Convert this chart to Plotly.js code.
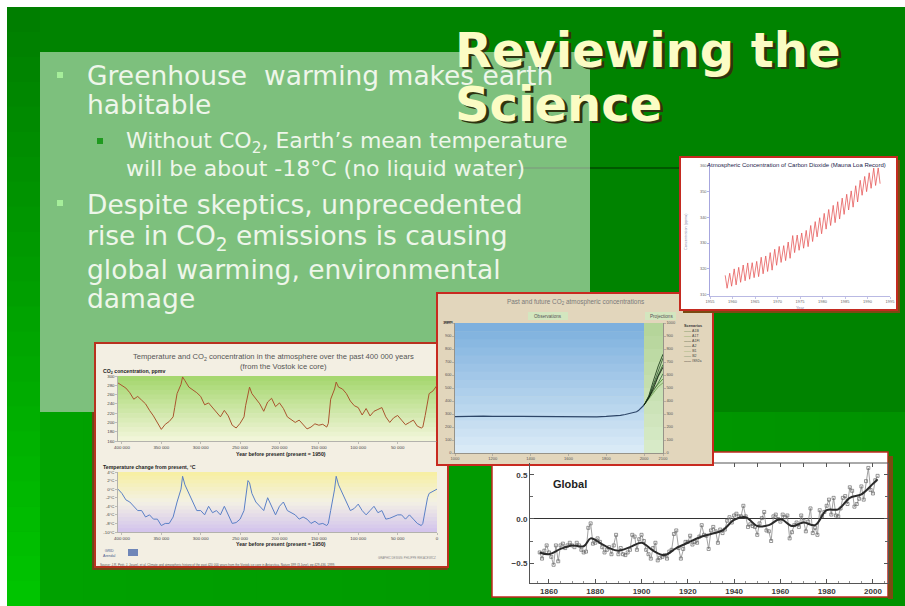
<!DOCTYPE html>
<html><head><meta charset="utf-8">
<script src="https://cdn.plot.ly/plotly-3.0.1.min.js"></script>
<style>html,body{margin:0;padding:0;background:#fff;}#chart{width:905px;height:606px;}</style>
</head><body><div id="chart"></div>
<script>
// ---------------- DATA ----------------
// Vostok ice core (kyr before present)
const vostokKyr = [0,5,10,12,15,18,20,25,30,35,
  40,45,50,55,60,65,70,75,80,85,
  90,95,100,105,110,115,120,125,128,130,
  135,138,140,145,150,155,160,165,170,175,
  180,185,190,195,200,205,210,215,220,225,
  230,235,238,240,243,245,250,255,260,265,
  270,275,280,285,290,295,300,305,310,315,
  320,323,325,330,333,335,340,345,350,355,
  360,365,370,375,380,385,390,395,400,405];
const vostokCO2 = [280,268,262,240,215,190,188,192,205,200,
  195,205,215,210,200,212,232,228,224,214,
  230,216,232,236,246,262,272,276,287,272,
  250,198,190,196,194,197,190,186,196,205,
  200,206,212,230,242,234,252,244,224,240,
  250,262,276,262,236,212,198,188,194,214,
  226,212,222,232,242,238,256,264,270,276,
  290,298,282,262,232,212,202,196,185,200,
  214,226,240,248,256,250,264,274,280,285];
const vostokTemp = [0,-0.5,-1,-2,-5,-8,-8.5,-8,-7,-6,
  -7,-6,-6,-6.5,-6.8,-7,-5,-5.5,-4,-5,
  -6,-5,-3.5,-4.5,-5,-3,-1,1,3,0,
  -5,-8,-8.5,-8,-8.2,-7.5,-8,-7,-6.5,-7,
  -6,-5.5,-5,-3,-4,-6,-4,-2,-5,-4,
  -3,-1,1.5,2,-2,-5,-7,-7.8,-8,-6,
  -4,-6,-5,-5.5,-4,-6,-5,-5,-3,-1,
  1,3,0,-3,-5,-6.5,-8,-8,-8.5,-7,
  -7,-6,-6.5,-5,-5,-4,-3,-2.5,-1,0];
const vostokTicks = [400,350,300,250,200,150,100,50];
const vostokTickText = ['400 000','350 000','300 000','250 000','200 000','150 000','100 000','50 000'];
const vostokTempTicks = [-10,-8,-6,-4,-2,0,2,4];
const vostokTempText = ['-10°C','-8°C','-6°C','-4°C','-2°C','0°C','2°C','4°C'];

// Past and future CO2
const obsYear = [1000,1050,1100,1150,1200,1250,1300,1350,1400,1450,1500,1550,1600,1650,1700,1750,1800,1850,1875,1900,1925,1950,1960,1970,1980,1990,2000];
const obsCO2  = [280,282,281,283,282,284,282,281,280,282,281,282,277,276,277,278,281,285,289,296,305,311,317,326,339,354,369];
const projYear = [2000,2025,2050,2075,2100];
const scenarioNames = ['A1B','A1T','A1FI','A2','B1','B2','IS92a'];
const scenA1B  = [369,430,520,600,680];
const scenA1T  = [369,425,490,530,570];
const scenA1FI = [369,440,560,670,760];
const scenA2   = [369,435,530,630,730];
const scenB1   = [369,415,470,510,540];
const scenB2   = [369,420,480,540,610];
const scenIS92a= [369,425,500,590,660];
const pastTicks = [1000,1200,1400,1600,1800,2000,2100];

// Mauna Loa record (seasonal maximum / minimum per year)
const mlYear = [1958,1959,1960,1961,1962,1963,1964,1965,1966,1967,1968,1969,1970,1971,1972,1973,1974,1975,1976,1977,1978,1979,1980,1981,1982,1983,1984,1985,1986,1987,1988,1989,1990,1991,1992];
const mlPeak = [317.5,318.3,320.0,320.6,321.5,322.3,322.4,322.9,324.5,325.0,326.3,327.6,328.7,329.0,330.4,332.9,333.1,333.9,334.9,336.8,338.3,339.8,341.5,343.0,344.6,346.0,347.4,348.9,350.2,352.2,354.3,355.8,357.2,359.0,359.1];
const mlTrough = [312.5,313.3,313.8,314.8,315.4,316.0,316.6,317.0,318.1,319.0,319.5,321.4,322.5,323.2,324.1,326.3,327.2,328.0,328.6,330.6,332.4,333.6,335.4,336.8,337.9,339.3,341.1,342.8,343.9,345.9,348.5,349.9,351.2,352.3,353.0];

// Global temperature anomaly, annual 1856-2002
const globalStartYear = 1856;
const globalAnnual = [-0.38,-0.45,-0.36,-0.30,
  -0.38,-0.43,-0.52,-0.30,-0.48,-0.30,-0.28,-0.33,-0.30,-0.27,
  -0.30,-0.32,-0.27,-0.30,-0.35,-0.38,-0.37,-0.10,-0.05,-0.28,
  -0.27,-0.22,-0.26,-0.32,-0.38,-0.35,-0.32,-0.40,-0.30,-0.18,
  -0.40,-0.33,-0.40,-0.41,-0.38,-0.35,-0.18,-0.20,-0.35,-0.23,
  -0.18,-0.25,-0.35,-0.40,-0.45,-0.33,-0.27,-0.47,-0.44,-0.43,
  -0.41,-0.45,-0.37,-0.35,-0.17,-0.13,-0.33,-0.45,-0.34,-0.26,
  -0.26,-0.19,-0.29,-0.26,-0.27,-0.20,-0.07,-0.18,-0.19,-0.34,
  -0.13,-0.09,-0.14,-0.27,-0.12,-0.16,-0.12,-0.02,0.02,-0.04,
  0.04,0.06,0.03,0.03,0.15,0.03,-0.09,-0.06,-0.08,-0.09,
  -0.18,-0.05,0.01,0.08,-0.13,-0.14,-0.25,0.03,0.05,0.00,
  -0.03,0.05,0.02,0.04,-0.22,-0.15,-0.07,-0.04,-0.09,0.04,
  -0.02,-0.14,-0.03,0.12,-0.16,-0.10,-0.18,0.10,0.03,0.08,
  0.15,0.22,0.05,0.24,0.04,0.03,0.12,0.24,0.26,0.17,
  0.36,0.32,0.14,0.17,0.23,0.37,0.22,0.43,0.58,0.33,
  0.29,0.44,0.49];
const globalSmoothYear = [1856,1860,1865,1870,1875,1878,1882,1886,1890,1895,1900,1905,1910,1915,1920,1925,1930,1935,1940,1945,1950,1955,1960,1965,1970,1975,1980,1985,1990,1995,2000,2002];
const globalSmooth = [-0.38,-0.40,-0.34,-0.30,-0.31,-0.22,-0.27,-0.33,-0.36,-0.32,-0.27,-0.36,-0.41,-0.33,-0.27,-0.21,-0.17,-0.13,-0.01,0.02,-0.08,-0.07,0.00,-0.08,-0.04,-0.07,0.10,0.11,0.24,0.28,0.40,0.45];
const globalTicks = [1860,1880,1900,1920,1940,1960,1980,2000];

// ---------------- HELPERS ----------------
const W=905,H=606;
const px=x=>x/W, py=y=>1-y/H;
const dX=(a,b)=>[a/W,b/W], dY=(top,bot)=>[1-bot/H,1-top/H];
const shapes=[], annotations=[];
function rect(x0,y0,x1,y1,fill,lc,lw){
  shapes.push({type:'rect',xref:'paper',yref:'paper',x0:px(x0),x1:px(x1),y0:py(y1),y1:py(y0),
    fillcolor:fill||'rgba(0,0,0,0)',line:{color:lc||'rgba(0,0,0,0)',width:lw||0},layer:'below'});
}
function seg(x0,y0,x1,y1,color,w){
  shapes.push({type:'line',xref:'paper',yref:'paper',x0:px(x0),x1:px(x1),y0:py(y0),y1:py(y1),line:{color:color,width:w},layer:'below'});
}
function hx(c){c=c.replace('#','');return [0,2,4].map(i=>parseInt(c.substr(i,2),16));}
function mix(a,b,t){const A=hx(a),B=hx(b);return 'rgb('+A.map((v,i)=>Math.round(v+(B[i]-v)*t)).join(',')+')';}
function gradV(x0,y0,x1,y1,c0,c1,n){const h=(y1-y0)/n;for(let i=0;i<n;i++){rect(x0,y0+i*h,x1,Math.min(y1,y0+(i+1)*h+0.7),mix(c0,c1,(i+0.5)/n));}}
function gradH(x0,y0,x1,y1,c0,c1,n){const w=(x1-x0)/n;for(let i=0;i<n;i++){rect(x0+i*w,y0,Math.min(x1,x0+(i+1)*w+0.7),y1,mix(c0,c1,(i+0.5)/n));}}
const SANS='Liberation Sans, Arial, sans-serif';
function txt(t,x,y,o){o=o||{};annotations.push({text:t,x:px(x),y:py(y),xref:'paper',yref:'paper',showarrow:false,
  xanchor:o.xa||'left',yanchor:o.ya||'middle',textangle:o.ang||0,borderpad:0,bgcolor:o.bg||'rgba(0,0,0,0)',
  font:{family:o.fam||SANS,size:o.s||10,color:o.c||'#000',weight:o.w||'normal'}});}

// ---------------- SLIDE BACKGROUND ----------------
rect(7,7,905,606,'#008300');
gradV(7,7,40,606,'#007c00','#00c600',24);
gradH(40,412,905,606,'#00a200','#009200',20);
seg(480,168,680,168,'#005800',2);
rect(40,52,590,412,'rgba(255,255,255,0.49)');
// bullets
rect(57,72,63,78,'#a6ee9a'); rect(57,200,63,206,'#a6ee9a'); rect(97,138,103,144,'#1f9a1f');

// ---------------- CHART FRAMES ----------------
// Vostok
rect(92,412,97,570,'#6a4a16'); rect(92,567,448,570,'#6a4a16');
rect(95,343,448,567,'#f3efe3','#b8321f',2);
gradV(118,376,437,441,'#a3d66c','#f4f6dc',14);
gradV(118,472,437,502,'#f7efa0','#f3f1e4',8);
gradV(118,502,437,532,'#f3f1e4','#d2c2ec',8);
rect(128,549,138,556,'#6f86b8');
// Global
rect(492,452,888,597,'#ffffff','#c02a1f',1.5);
rect(888,456,893,599,'#7a4a12');
seg(713,463,888,463,'#555555',1);
// Past & future
rect(437,293,713,465,'#e2d6bc','#c82a20',2);
gradV(455,323,644,453,'#7aaedd','#dcecf7',16);
gradV(644,323,663,453,'#b3d497','#d9ebc9',10);
rect(528,312,568,320,'#d3e6bf'); rect(645,312,676,320,'#d3e6bf');
// Mauna Loa
rect(683,160,900,313,'#7a4a12');
rect(680,157,897,310,'#ffffff','#c42a20',2);

// ---------------- TEXT ----------------
const TF='DejaVu Sans, Verdana, sans-serif';
txt('Reviewing the',457,52,{fam:TF,s:48,w:'bold',c:'#2e3410'});
txt('Science',457,106,{fam:TF,s:48,w:'bold',c:'#2e3410'});
txt('Reviewing the',454,50,{fam:TF,s:48,w:'bold',c:'#fbfcc4'});
txt('Science',454,104,{fam:TF,s:48,w:'bold',c:'#fbfcc4'});
const BC='#eef6ea';
txt('Greenhouse&nbsp; warming makes earth',86,75,{fam:TF,s:26.5,c:BC});
txt('habitable',86,105,{fam:TF,s:26.5,c:BC});
txt('Without CO<sub>2</sub>, Earth’s mean temperature',125,142,{fam:TF,s:22,c:BC});
txt('will be about -18°C (no liquid water)',125,168,{fam:TF,s:22,c:BC});
txt('Despite skeptics, unprecedented',86,204,{fam:TF,s:26.5,c:BC});
txt('rise in CO<sub>2</sub> emissions is causing',86,237,{fam:TF,s:26.5,c:BC});
txt('global warming, environmental',86,270,{fam:TF,s:26.5,c:BC});
txt('damage',86,299,{fam:TF,s:26.5,c:BC});

// Vostok texts
txt('Temperature and CO<sub>2</sub> concentration in the atmosphere over the past 400 000 years',273,357,{xa:'center',s:7.6,c:'#555'});
txt('(from the Vostok ice core)',283,367,{xa:'center',s:7.6,c:'#555'});
txt('CO<sub>2</sub> concentration, ppmv',102,371,{s:5.2,w:'bold',c:'#222'});
txt('Year before present (present = 1950)',281,454,{xa:'center',s:5.2,w:'bold',c:'#222'});
txt('Temperature change from present, °C',102,467,{s:5.2,w:'bold',c:'#222'});
txt('Year before present (present = 1950)',281,544,{xa:'center',s:5.2,w:'bold',c:'#222'});
txt('GRID<br>Arendal',102,553,{s:3.6,c:'#4a5a90'});
txt('Source: J.R. Petit, J. Jouzel, et al. Climate and atmospheric history of the past 420 000 years from the Vostok ice core in Antarctica, Nature 399 (3 June), pp 429-436, 1999.',99,565,{s:3.1,c:'#555'});
txt('GRAPHIC DESIGN: PHILIPPE REKACEWICZ',437,558,{xa:'right',s:2.8,c:'#888'});

// Past & future texts
txt('Past and future CO<sub>2</sub> atmospheric concentrations',575,302,{xa:'center',s:6.4,c:'#7a7a7a'});
txt('Observations',548,316,{xa:'center',s:4.6,c:'#555'});
txt('Projections',661,316,{xa:'center',s:4.6,c:'#555'});
txt('ppm',443,321,{s:4.2,w:'bold',c:'#333'});
txt('Scenarios',683,326,{s:3.8,w:'bold',c:'#333'});
const scenColors=['#1f5f1f','#4a8a2a','#0d2d0d','#2f4f2f','#6a9a4a','#3a6a3a','#000000'];
scenarioNames.forEach((n,i)=>{txt('<span style="color:'+scenColors[i]+'">——</span> '+n,683,331+i*5,{s:3.6,c:'#444'});});

// Mauna Loa texts
txt('Atmospheric Concentration of Carbon Dioxide (Mauna Loa Record)',706,165,{s:6,c:'#23234a'});
txt('Concentration (ppmv)',686,232,{xa:'center',ang:-90,s:3.8,c:'#8a8aa8'});
txt('Year',800,307,{xa:'center',s:4,c:'#8a8aa8'});

// Global
txt('Global',552,484,{s:11,w:'bold',c:'#222'});

// ---------------- TRACES ----------------
const mlX=[], mlY=[];
mlYear.forEach((y,i)=>{mlX.push(y+0.38,y+0.8);mlY.push(mlPeak[i],mlTrough[i]);});
const globalYear = globalAnnual.map((v,i)=>globalStartYear+i);
const scen=[scenA1B,scenA1T,scenA1FI,scenA2,scenB1,scenB2,scenIS92a];

const traces=[
  {x:vostokKyr,y:vostokCO2,xaxis:'x',yaxis:'y',mode:'lines',line:{color:'#a9552e',width:1}},
  {x:vostokKyr,y:vostokTemp,xaxis:'x2',yaxis:'y2',mode:'lines',line:{color:'#5a80c6',width:1}},
  {x:obsYear,y:obsCO2,xaxis:'x3',yaxis:'y3',mode:'lines',line:{color:'#2d4668',width:1.2}},
  {x:obsYear,y:obsCO2,xaxis:'x3',yaxis:'y4',mode:'lines',opacity:0,line:{width:0}},
];
scen.forEach((s,i)=>traces.push({x:projYear,y:s,xaxis:'x3',yaxis:'y3',mode:'lines',line:{color:scenColors[i],width:0.8}}));
traces.push({x:mlX,y:mlY,xaxis:'x5',yaxis:'y5',mode:'lines',line:{color:'#e65a5a',width:0.8}});
traces.push({x:globalYear,y:globalAnnual,xaxis:'x6',yaxis:'y6',mode:'lines+markers',
  line:{color:'#8a8a8a',width:0.8},marker:{symbol:'square-open',size:3,color:'#6a6a6a',line:{width:0.7}}});
traces.push({x:globalSmoothYear,y:globalSmooth,xaxis:'x6',yaxis:'y6',mode:'lines',line:{color:'#2a2a2a',width:2,shape:'spline'}});
traces.push({x:globalYear,y:globalAnnual,xaxis:'x7',yaxis:'y6',mode:'lines',opacity:0,line:{width:0}});
traces.forEach(t=>{t.hoverinfo='skip';t.showlegend=false;});

function ax(o){return Object.assign({showgrid:false,zeroline:false,showline:true,linecolor:'#888',linewidth:0.6,
  ticks:'outside',ticklen:2,tickwidth:0.5,tickcolor:'#888',fixedrange:true,
  tickfont:{family:SANS,size:4.4,color:'#444'}},o);}

const layout={width:905,height:606,margin:{l:0,r:0,t:0,b:0,pad:0},paper_bgcolor:'#ffffff',plot_bgcolor:'rgba(0,0,0,0)',
  showlegend:false,shapes:shapes,annotations:annotations,
  xaxis: ax({domain:dX(118,437),anchor:'y',range:[405,0],tickvals:vostokTicks,ticktext:vostokTickText}),
  yaxis: ax({domain:dY(376,441),anchor:'x',range:[160,300],dtick:20,tick0:160}),
  xaxis2:ax({domain:dX(118,437),anchor:'y2',range:[405,0],tickvals:vostokTicks.concat([0]),ticktext:vostokTickText.concat(['0'])}),
  yaxis2:ax({domain:dY(472,532),anchor:'x2',range:[-10,4],tickvals:vostokTempTicks,ticktext:vostokTempText}),
  xaxis3:ax({domain:dX(455,663),anchor:'y3',range:[1000,2100],tickvals:pastTicks,linecolor:'#666',tickfont:{family:SANS,size:4,color:'#555'}}),
  yaxis3:ax({domain:dY(323,453),anchor:'x3',range:[0,1000],dtick:100,linecolor:'#666',tickfont:{family:SANS,size:4,color:'#555'}}),
  yaxis4:ax({overlaying:'y3',side:'right',anchor:'x3',range:[0,1000],dtick:100,linecolor:'#666',tickfont:{family:SANS,size:4,color:'#555'}}),
  xaxis5:ax({domain:dX(710,890),anchor:'y5',range:[1955,1995],tickvals:[1955,1960,1965,1970,1975,1980,1985,1990,1995],linecolor:'#8a8ad0',tickcolor:'#8a8ad0',tickfont:{family:SANS,size:4,color:'#666'}}),
  yaxis5:ax({domain:dY(163,296),anchor:'x5',range:[309.5,361],tickvals:[310,320,330,340,350,360],linecolor:'#6a6ac8',tickcolor:'#6a6ac8',tickfont:{family:SANS,size:4,color:'#666'}}),
  xaxis6:ax({domain:dX(530,888),anchor:'y6',range:[1851.8,2006.5],tickvals:globalTicks,linecolor:'#555',linewidth:1,
    ticks:'inside',ticklen:4,tickcolor:'#555',tickwidth:1,tickfont:{family:SANS,size:8,color:'#3a3a3a',weight:'bold'},
    minor:{dtick:5,tick0:1860,ticks:'inside',ticklen:2,tickcolor:'#777',tickwidth:0.8}}),
  yaxis6:ax({domain:dY(463,583),anchor:'x6',range:[-0.727,0.636],tick0:-0.5,dtick:0.5,tickformat:'.1f',linecolor:'#555',linewidth:1,
    mirror:'ticks',ticks:'inside',ticklen:4,tickcolor:'#555',tickwidth:1,zeroline:true,zerolinecolor:'#333',zerolinewidth:1,
    tickfont:{family:SANS,size:8,color:'#3a3a3a',weight:'bold'},minor:{dtick:0.25,ticks:'inside',ticklen:3,tickcolor:'#666'}}),
  xaxis7:ax({overlaying:'x6',side:'top',anchor:'y6',range:[1851.8,2006.5],tickvals:[1940,1950,1960,1970,1980,1990,2000],
    showline:false,showticklabels:false,ticks:'inside',ticklen:4,tickcolor:'#555',tickwidth:1})
};
Plotly.newPlot('chart',traces,layout,{staticPlot:true,displayModeBar:false});
</script></body></html>
